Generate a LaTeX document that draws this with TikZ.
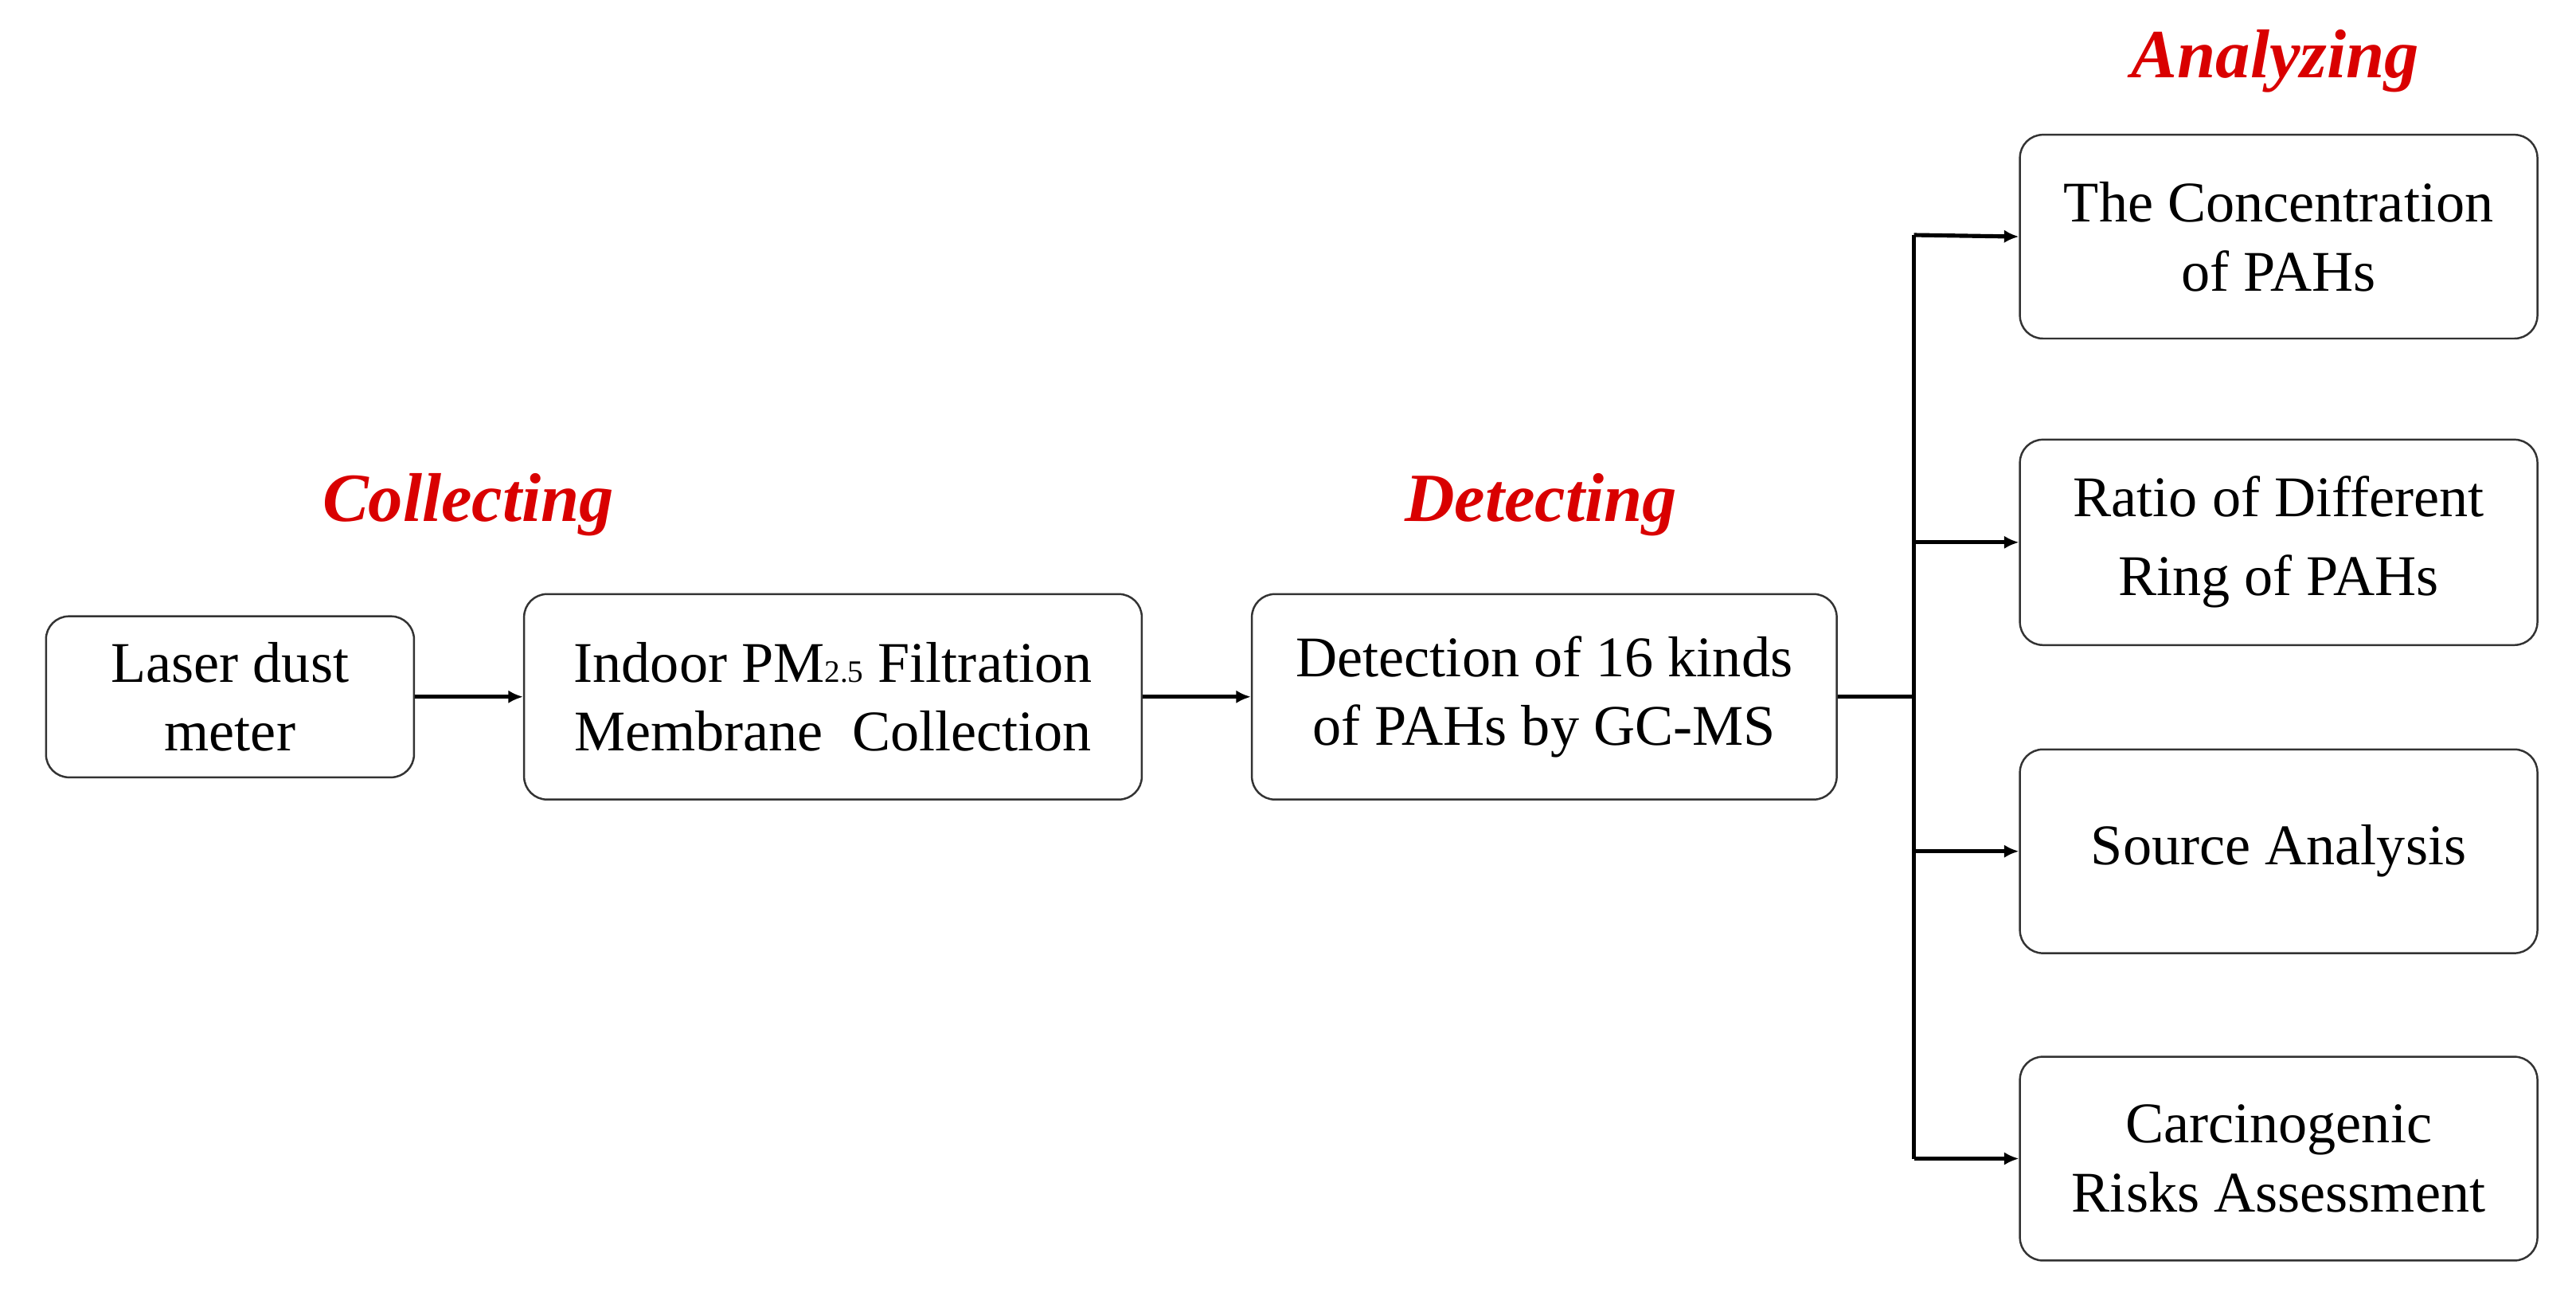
\documentclass[tikz,border=0pt]{standalone}
\usepackage{fontspec}
\setmainfont{Liberation Serif}
\usetikzlibrary{arrows.meta}
\begin{document}
\begin{tikzpicture}[x=1pt,y=-1pt,
  box/.style={draw=black!80,line width=1.2pt,rounded corners=14pt,align=center,font=\fontsize{35}{42}\selectfont,inner sep=0pt},
  lab/.style={text=red!85!black,font=\fontsize{42}{46}\selectfont\bfseries\itshape},
  arr/.style={line width=2.5pt,-{Latex[length=9pt,width=8pt]}}]
\useasboundingbox (0,0) rectangle (1568,791);
\node[box,minimum width=224pt,minimum height=98pt] (a) at (140,424) {Laser dust\\meter};
\node[box,minimum width=376pt,minimum height=125pt] (b) at (507,424) {Indoor PM{\fontsize{19}{20}\selectfont 2.5} Filtration\\Membrane\ \ Collection};
\node[box,minimum width=356pt,minimum height=125pt] (c) at (940,424) {Detection of 16 kinds\\of PAHs by GC-MS};
\node[box,minimum width=315pt,minimum height=124pt] (r1) at (1387,144) {The Concentration\\of PAHs};
\node[box,minimum width=315pt,minimum height=125pt] (r2) at (1387,330) {Ratio of Different\\[6pt]Ring of PAHs};
\node[box,minimum width=315pt,minimum height=124pt] (r3) at (1387,518) {Source Analysis};
\node[box,minimum width=315pt,minimum height=124pt] (r4) at (1387,705) {Carcinogenic\\Risks Assessment};
\node[lab] (l1) at (285,307) {Collecting};
\node[lab] (l2) at (938,307) {Detecting};
\node[lab] (l3) at (1385,37) {Analyzing};
\coordinate (j) at (1165,424);
\draw[arr] (a) -- (b);
\draw[arr] (b) -- (c);
\draw[line width=2.5pt] (c.east) -- (j);
\draw[line width=2.5pt] (1165,143) -- (1165,705);
\draw[arr] (1165,143) -- (r1.west);
\draw[arr] (1165,330) -- (r2.west);
\draw[arr] (1165,518) -- (r3.west);
\draw[arr] (1165,705) -- (r4.west);
\end{tikzpicture}
\end{document}
